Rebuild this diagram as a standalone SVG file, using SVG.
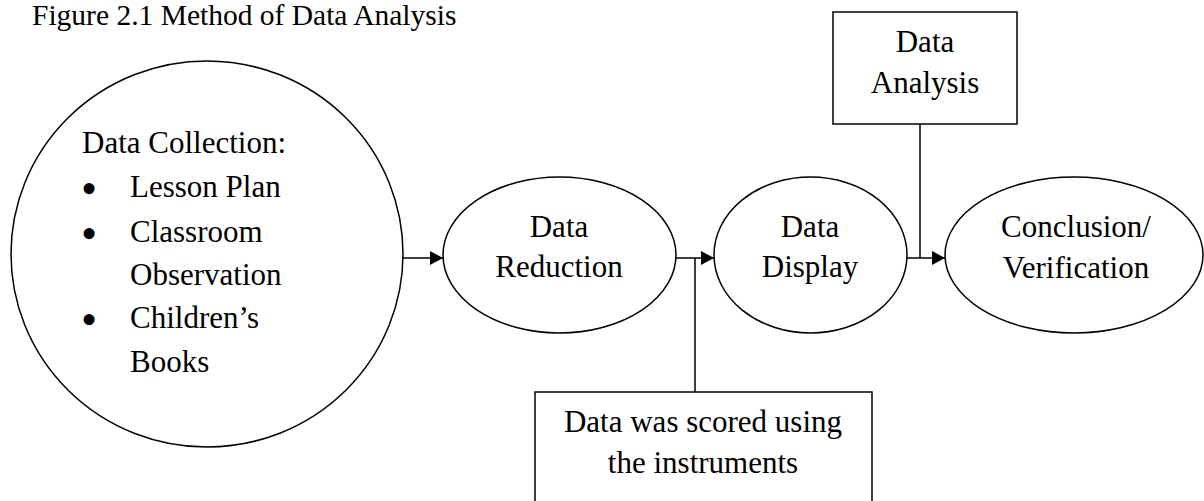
<svg xmlns="http://www.w3.org/2000/svg" width="1204" height="501" viewBox="0 0 1204 501">
<defs>
<style>
text{font-family:"Liberation Serif","Times New Roman",serif;font-size:31px;fill:#000}
.c{text-anchor:middle}
.t{font-size:29.5px}
.b{font-size:46px}
.s{fill:#fff;stroke:#000;stroke-width:1.5}
.l{fill:none;stroke:#000;stroke-width:1.5}
</style>
<marker id="ah" markerWidth="14" markerHeight="14" refX="13" refY="7" orient="auto" markerUnits="userSpaceOnUse">
<path d="M0,0 L13,7 L0,14 Z" fill="#000"/>
</marker>
</defs>
<rect width="1204" height="501" fill="#fff"/>
<text class="t" x="32" y="25">Figure 2.1 Method of Data Analysis</text>
<g id="connectors">
<line class="l" x1="403" y1="258" x2="443" y2="258" marker-end="url(#ah)"/>
<line class="l" x1="676" y1="258" x2="714" y2="258" marker-end="url(#ah)"/>
<line class="l" x1="695" y1="258" x2="695" y2="392"/>
<line class="l" x1="907" y1="258" x2="945" y2="258" marker-end="url(#ah)"/>
<line class="l" x1="920" y1="124" x2="920" y2="258"/>
</g>
<g id="collection">
<ellipse class="s" cx="207" cy="254" rx="196" ry="193"/>
<text x="82" y="153">Data Collection:</text>
<text class="b" x="81" y="204">•</text><text x="130" y="197">Lesson Plan</text>
<text class="b" x="81" y="249">•</text><text x="130" y="242">Classroom</text>
<text x="130" y="285">Observation</text>
<text class="b" x="81" y="335">•</text><text x="130" y="328">Children’s</text>
<text x="130" y="372">Books</text>
</g>
<g id="reduction">
<ellipse class="s" cx="559.5" cy="255" rx="116.5" ry="78"/>
<text class="c" x="559" y="237">Data</text>
<text class="c" x="559" y="277">Reduction</text>
</g>
<g id="display">
<ellipse class="s" cx="810.5" cy="255" rx="96.5" ry="78"/>
<text class="c" x="810" y="237">Data</text>
<text class="c" x="810" y="277">Display</text>
</g>
<g id="conclusion">
<ellipse class="s" cx="1074" cy="255" rx="129" ry="78"/>
<text class="c" x="1076" y="237">Conclusion/</text>
<text class="c" x="1076" y="278">Verification</text>
</g>
<g id="analysis">
<rect class="s" x="833" y="12" width="184" height="112"/>
<text class="c" x="925" y="52">Data</text>
<text class="c" x="925" y="93">Analysis</text>
</g>
<g id="scored">
<rect class="s" x="535" y="392" width="337" height="130"/>
<text class="c" x="703" y="432">Data was scored using</text>
<text class="c" x="703" y="473">the instruments</text>
</g>
</svg>
